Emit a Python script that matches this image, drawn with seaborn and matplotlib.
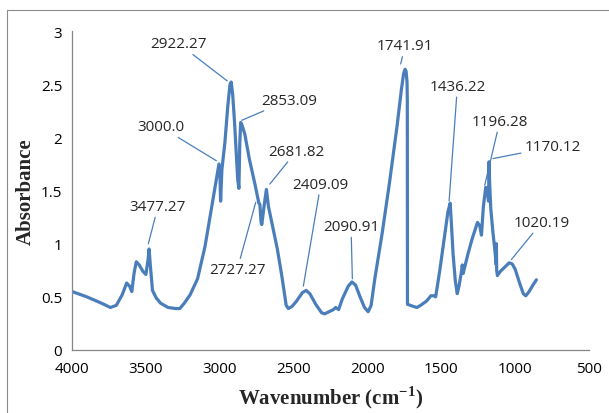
import matplotlib
matplotlib.use('Agg')
import matplotlib.pyplot as plt
import seaborn as sns
import pandas as pd
from matplotlib.patches import Rectangle

# spectrum (wavenumber cm-1, absorbance)
wavenumber = [
    4000, 3900, 3800, 3740, 3700, 3660, 3630, 3610, 3595, 3580, 3565, 3545, 3520, 3500,
    3485, 3478, 3470, 3455, 3430, 3400, 3350, 3300, 3270, 3240, 3200, 3150, 3100, 3060,
    3030, 3005, 2998, 2994, 2985, 2965, 2945, 2930, 2922, 2912, 2900, 2890, 2878, 2870,
    2864, 2858, 2850, 2830, 2800, 2760, 2735, 2728, 2720, 2715, 2700, 2684, 2670, 2640,
    2610, 2580, 2550, 2535, 2510, 2480, 2440, 2415, 2390, 2350, 2310, 2290, 2260, 2230,
    2215, 2195, 2170, 2130, 2105, 2080, 2050, 2020, 1995, 1975, 1950, 1900, 1850, 1800,
    1770, 1755, 1745, 1738, 1732, 1730, 1729, 1710, 1690, 1665, 1640, 1600, 1570, 1550,
    1538, 1510, 1480, 1455, 1440, 1432, 1420, 1405, 1392, 1380, 1362, 1358, 1352, 1345,
    1320, 1290, 1255, 1240, 1228, 1215, 1199, 1188, 1180, 1177, 1172, 1165, 1150, 1138,
    1128, 1127, 1125, 1120, 1100, 1070, 1040, 1020, 1000, 970, 945, 928, 905, 880, 856,
]
absorbance = [
    0.55, 0.50, 0.44, 0.40, 0.42, 0.52, 0.63, 0.60, 0.55, 0.72, 0.83, 0.80, 0.74, 0.71,
    0.85, 0.95, 0.80, 0.56, 0.49, 0.44, 0.40, 0.39, 0.39, 0.44, 0.52, 0.67, 0.97, 1.30,
    1.55, 1.75, 1.62, 1.40, 1.70, 1.95, 2.30, 2.50, 2.52, 2.40, 2.15, 1.90, 1.60, 1.52,
    1.95, 2.14, 2.12, 2.03, 1.80, 1.55, 1.38, 1.37, 1.20, 1.18, 1.35, 1.51, 1.35, 1.15,
    0.95, 0.70, 0.42, 0.39, 0.41, 0.46, 0.54, 0.56, 0.53, 0.43, 0.35, 0.34, 0.36, 0.38,
    0.40, 0.38, 0.48, 0.60, 0.64, 0.61, 0.50, 0.40, 0.36, 0.42, 0.67, 1.10, 1.58, 2.10,
    2.45, 2.60, 2.64, 2.62, 2.52, 2.35, 0.43, 0.42, 0.41, 0.40, 0.42, 0.46, 0.51, 0.51,
    0.50, 0.75, 1.05, 1.30, 1.38, 1.20, 0.90, 0.65, 0.53, 0.60, 0.75, 0.80, 0.72, 0.76,
    0.90, 1.05, 1.20, 1.17, 1.08, 1.35, 1.53, 1.47, 1.40, 1.77, 1.55, 1.33, 1.10, 0.95,
    0.80, 1.00, 0.75, 0.70, 0.74, 0.78, 0.82, 0.81, 0.76, 0.63, 0.53, 0.51, 0.55, 0.61, 0.66,
]

# peak labels and where their leader lines point
peak_labels = ["3477.27", "3000.0", "2922.27", "2853.09", "2727.27", "2681.82", "2409.09",
               "2090.91", "1741.91", "1436.22", "1196.28", "1170.12", "1020.19"]
peak_x = [3483, 3023, 2949, 2851, 2756, 2661, 2434, 2102, 1775, 1447, 1206, 1150, 1026]
peak_y = [1.00, 1.78, 2.53, 2.16, 1.39, 1.56, 0.60, 0.67, 2.69, 1.40, 1.55, 1.80, 0.85]
label_x = [3418, 3400, 3276, 2531, 2881, 2481, 2316, 2111, 1745, 1391, 1104, 748, 820]
label_y = [1.35, 2.10, 2.88, 2.35, 0.76, 1.87, 1.56, 1.16, 2.86, 2.48, 2.15, 1.91, 1.20]

x_ticks = [4000, 3500, 3000, 2500, 2000, 1500, 1000, 500]
y_ticks = [0, 0.5, 1, 1.5, 2, 2.5, 3]
y_tick_labels = ["0", "0.5", "1", "1.5", "2", "2.5", "3"]

blue = '#4a7ebb'
grey = '#868686'

sns.set_style('white')
plt.rcParams['font.family'] = ['Open Sans', 'DejaVu Sans']
plt.rcParams['mathtext.fontset'] = 'custom'
plt.rcParams['mathtext.rm'] = 'Liberation Serif:bold'
plt.rcParams['mathtext.bf'] = 'Liberation Serif:bold'

df = pd.DataFrame({'wavenumber': wavenumber, 'absorbance': absorbance})

fig = plt.figure(figsize=(6.09, 4.14), dpi=100)
fig.patches.append(Rectangle((7 / 609, -0.1), 1.2, 1 - 11 / 414 + 0.1, transform=fig.transFigure,
                             fill=False, edgecolor='#8c8c8c', lw=0.8))
ax = fig.add_axes([72 / 609, 1 - 351 / 414, 517 / 609, 319 / 414])

sns.lineplot(data=df, x='wavenumber', y='absorbance', sort=False, estimator=None,
             color=blue, lw=2.3, ax=ax)

for txt, px, py, tx, ty in zip(peak_labels, peak_x, peak_y, label_x, label_y):
    ax.annotate(txt, xy=(px, py), xytext=(tx, ty), ha='center', va='center', fontsize=11,
                arrowprops=dict(arrowstyle='-', color=blue, lw=0.9, shrinkA=0, shrinkB=0))

ax.set_xlim(4000, 500)
ax.set_ylim(0, 3)
ax.set_xticks(x_ticks)
ax.set_xticklabels([str(t) for t in x_ticks])
ax.set_yticks(y_ticks)
ax.set_yticklabels(y_tick_labels)
ax.tick_params(axis='both', direction='out', length=4, width=0.9, color=grey, labelsize=11,
               labelcolor='black', pad=3)
ax.tick_params(axis='x', pad=4)

for side in ['top', 'right']:
    ax.spines[side].set_visible(False)
for side in ['left', 'bottom']:
    ax.spines[side].set_color(grey)
    ax.spines[side].set_linewidth(0.9)

ax.set_xlabel('Wavenumber (cm$^{-1}$)', family='Liberation Serif', fontweight='bold',
              fontsize=15, labelpad=5)
ax.set_ylabel('Absorbance', family='Liberation Serif', fontweight='bold', fontsize=15, labelpad=4)

plt.savefig('out.png', dpi=100)
plt.close()
